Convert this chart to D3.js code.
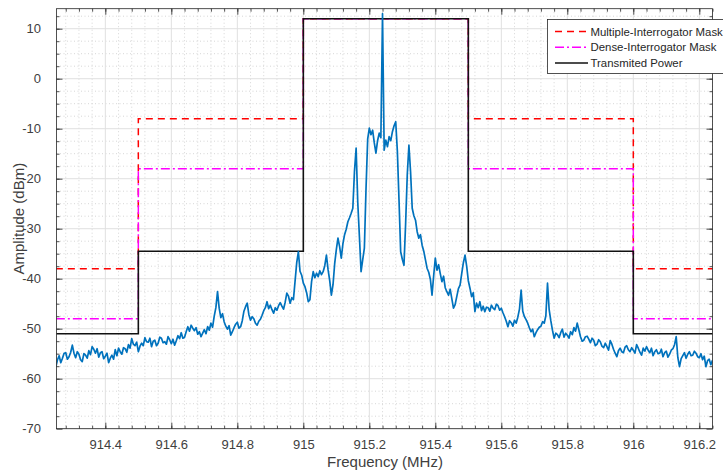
<!DOCTYPE html>
<html>
<head>
<meta charset="utf-8">
<script src="https://cdn.jsdelivr.net/npm/d3@7"></script>
<style>
  html, body { margin: 0; padding: 0; background: #ffffff; }
  svg { display: block; }
  text { font-family: "Liberation Sans", Arial, Helvetica, sans-serif; }
</style>
</head>
<body>
<svg id="chart" width="723" height="472"></svg>
<script>
// ---------------- DATA ----------------
const xTickValues = [914.4, 914.6, 914.8, 915, 915.2, 915.4, 915.6, 915.8, 916, 916.2];
const xTickLabels = ["914.4", "914.6", "914.8", "915", "915.2", "915.4", "915.6", "915.8", "916", "916.2"];
const yTickValues = [-70, -60, -50, -40, -30, -20, -10, 0, 10];
const yTickLabels = ["-70", "-60", "-50", "-40", "-30", "-20", "-10", "0", "10"];

const legendLabels = ["Multiple-Interrogator Mask", "Dense-Interrogator Mask", "Transmited Power"];

// Mask step edges (MHz) and levels (dBm) for each segment
const maskEdgesMHz = [914.25, 914.5, 915, 915.5, 916, 916.25];
const multiMaskDbm = [-38, -8, 12, -8, -38];
const denseMaskDbm = [-48, -18, 12, -18, -48];
const txPowerDbm   = [-51, -34.5, 12, -34.5, -51];

// Measured spectrum trace (frequency in MHz, amplitude in dBm)
const freqMHz = [
914.250,914.255,914.260,914.265,914.270,914.275,914.280,914.285,914.290,914.295,
914.300,914.305,914.310,914.315,914.320,914.325,914.330,914.335,914.340,914.345,
914.350,914.355,914.360,914.365,914.370,914.375,914.380,914.385,914.390,914.395,
914.400,914.405,914.410,914.415,914.420,914.425,914.430,914.435,914.440,914.445,
914.450,914.455,914.460,914.465,914.470,914.475,914.480,914.485,914.490,914.495,
914.500,914.505,914.510,914.515,914.520,914.525,914.530,914.535,914.540,914.545,
914.550,914.555,914.560,914.565,914.570,914.575,914.580,914.585,914.590,914.595,
914.600,914.605,914.610,914.615,914.620,914.625,914.630,914.635,914.640,914.645,
914.650,914.655,914.660,914.665,914.670,914.675,914.680,914.685,914.690,914.695,
914.700,914.705,914.710,914.715,914.720,914.725,914.730,914.735,914.740,914.745,
914.750,914.755,914.760,914.765,914.770,914.775,914.780,914.785,914.790,914.795,
914.800,914.805,914.810,914.815,914.820,914.825,914.830,914.835,914.840,914.845,
914.850,914.855,914.860,914.865,914.870,914.875,914.880,914.885,914.890,914.895,
914.900,914.905,914.910,914.915,914.920,914.925,914.930,914.935,914.940,914.945,
914.950,914.955,914.960,914.965,914.970,914.975,914.980,914.985,914.990,914.995,
915.000,915.005,915.010,915.015,915.020,915.025,915.030,915.035,915.040,915.045,
915.050,915.055,915.060,915.065,915.070,915.075,915.080,915.085,915.090,915.095,
915.100,915.105,915.110,915.115,915.120,915.125,915.130,915.135,915.140,915.145,
915.150,915.155,915.160,915.165,915.170,915.175,915.180,915.185,915.190,915.195,
915.200,915.205,915.210,915.215,915.220,915.225,915.230,915.235,915.240,915.245,
915.250,915.255,915.260,915.265,915.270,915.275,915.280,915.285,915.290,915.295,
915.300,915.305,915.310,915.315,915.320,915.325,915.330,915.335,915.340,915.345,
915.350,915.355,915.360,915.365,915.370,915.375,915.380,915.385,915.390,915.395,
915.400,915.405,915.410,915.415,915.420,915.425,915.430,915.435,915.440,915.445,
915.450,915.455,915.460,915.465,915.470,915.475,915.480,915.485,915.490,915.495,
915.500,915.505,915.510,915.515,915.520,915.525,915.530,915.535,915.540,915.545,
915.550,915.555,915.560,915.565,915.570,915.575,915.580,915.585,915.590,915.595,
915.600,915.605,915.610,915.615,915.620,915.625,915.630,915.635,915.640,915.645,
915.650,915.655,915.660,915.665,915.670,915.675,915.680,915.685,915.690,915.695,
915.700,915.705,915.710,915.715,915.720,915.725,915.730,915.735,915.740,915.745,
915.750,915.755,915.760,915.765,915.770,915.775,915.780,915.785,915.790,915.795,
915.800,915.805,915.810,915.815,915.820,915.825,915.830,915.835,915.840,915.845,
915.850,915.855,915.860,915.865,915.870,915.875,915.880,915.885,915.890,915.895,
915.900,915.905,915.910,915.915,915.920,915.925,915.930,915.935,915.940,915.945,
915.950,915.955,915.960,915.965,915.970,915.975,915.980,915.985,915.990,915.995,
916.000,916.005,916.010,916.015,916.020,916.025,916.030,916.035,916.040,916.045,
916.050,916.055,916.060,916.065,916.070,916.075,916.080,916.085,916.090,916.095,
916.100,916.105,916.110,916.115,916.120,916.125,916.130,916.135,916.140,916.145,
916.150,916.155,916.160,916.165,916.170,916.175,916.180,916.185,916.190,916.195,
916.200,916.205,916.210,916.215,916.220,916.225,916.230,916.235,916.240
];
const amplitudeDbm = [
-57.6,-56.2,-55.4,-56.8,-55.9,-54.9,-54.8,-56.1,-55.6,-54.7,
-53.3,-54.9,-55.8,-54.6,-55.1,-56.2,-56.6,-55.0,-55.3,-55.9,
-54.4,-55.2,-53.6,-54.1,-54.9,-54.0,-55.7,-54.8,-54.6,-56.0,
-55.5,-54.9,-56.8,-55.9,-55.3,-56.1,-54.2,-55.4,-53.9,-54.6,
-55.1,-53.8,-54.0,-54.7,-53.2,-53.9,-52.0,-53.1,-53.4,-52.7,
-54.6,-53.5,-52.9,-53.4,-51.8,-52.6,-52.7,-51.9,-53.6,-52.5,
-52.3,-53.4,-52.9,-51.7,-51.9,-52.8,-52.6,-53.1,-51.6,-52.2,
-53.0,-52.1,-53.3,-52.4,-51.4,-52.0,-50.8,-51.9,-51.7,-50.6,
-49.6,-50.5,-49.3,-49.9,-50.4,-49.8,-51.1,-50.6,-51.6,-50.9,
-50.2,-51.0,-49.6,-50.3,-48.9,-49.7,-47.5,-45.8,-42.6,-45.9,
-47.8,-47.0,-48.6,-49.5,-50.1,-49.4,-51.3,-50.6,-49.8,-49.1,
-48.7,-49.9,-49.6,-48.4,-46.5,-45.6,-44.9,-47.2,-48.3,-47.6,
-48.0,-48.9,-49.3,-48.5,-48.1,-47.3,-46.4,-45.8,-44.6,-46.0,
-45.3,-46.2,-46.9,-45.8,-46.3,-45.4,-44.8,-45.5,-46.1,-44.7,
-42.9,-43.5,-44.9,-43.8,-44.2,-40.5,-36.8,-34.6,-38.5,-39.3,
-40.9,-41.6,-42.8,-44.6,-44.2,-40.6,-38.6,-39.8,-38.9,-39.6,
-38.4,-39.2,-38.6,-37.4,-35.3,-38.2,-40.4,-43.3,-41.2,-37.0,
-34.2,-31.9,-33.6,-35.9,-33.0,-31.2,-30.1,-28.6,-27.8,-26.9,
-25.9,-18.5,-13.9,-24.8,-31.6,-38.6,-36.2,-33.9,-22.0,-12.1,
-9.9,-11.2,-10.3,-12.8,-14.9,-12.4,-10.9,-11.8,13.0,-14.3,
-12.3,-13.6,-11.6,-12.4,-10.6,-9.4,-8.6,-14.5,-24.3,-34.6,
-36.1,-37.3,-29.0,-19.2,-13.3,-18.6,-25.9,-27.4,-28.3,-30.6,
-31.9,-31.2,-33.3,-34.5,-36.2,-37.9,-38.7,-40.1,-43.3,-39.4,
-35.9,-38.3,-37.2,-39.0,-40.6,-39.5,-41.8,-42.6,-43.3,-42.1,
-44.0,-45.9,-45.2,-43.6,-42.0,-41.3,-39.0,-36.8,-35.3,-37.5,
-40.4,-41.9,-43.6,-42.8,-46.6,-44.9,-45.8,-44.6,-46.4,-45.5,
-46.6,-45.7,-45.8,-46.5,-45.3,-45.9,-46.2,-45.1,-45.4,-46.3,
-45.9,-46.8,-47.6,-48.5,-49.6,-48.4,-48.8,-49.5,-48.3,-48.9,
-47.7,-46.1,-42.3,-46.5,-47.6,-48.2,-48.9,-49.8,-50.6,-50.1,
-51.6,-50.8,-50.2,-49.7,-49.5,-48.6,-48.9,-47.4,-40.9,-46.2,
-48.4,-50.3,-51.9,-50.9,-51.2,-51.8,-50.8,-50.1,-51.7,-50.9,
-51.3,-51.9,-50.6,-51.2,-49.8,-50.5,-48.9,-50.2,-51.6,-52.5,
-52.3,-51.6,-51.5,-52.1,-52.8,-51.9,-52.3,-53.4,-53.1,-52.2,
-52.6,-53.5,-53.8,-52.9,-53.6,-54.3,-52.4,-53.1,-54.1,-54.9,
-55.6,-54.4,-53.9,-54.6,-54.8,-53.7,-53.4,-54.2,-54.6,-53.8,
-54.3,-54.9,-53.2,-53.9,-54.7,-55.3,-53.9,-54.5,-53.6,-54.3,
-54.8,-53.9,-55.4,-54.6,-54.2,-55.0,-54.9,-54.1,-55.6,-54.8,
-54.5,-55.7,-55.1,-54.3,-54.0,-53.2,-51.6,-55.8,-57.6,-56.0,
-55.4,-54.8,-55.9,-55.1,-54.6,-55.4,-55.3,-54.5,-54.9,-55.6,
-55.8,-55.0,-56.2,-55.5,-57.6,-56.4,-56.1,-57.2,-56.3
];

// ---------------- LAYOUT ----------------
const svg = d3.select("#chart");
const W = 723, H = 472;
const plot = { left: 56.5, right: 712.5, top: 8.7, bottom: 428.7 };

const x = d3.scaleLinear().domain([914.252, 916.24]).range([plot.left, plot.right]);
const y = d3.scaleLinear().domain([-70, 14]).range([plot.bottom, plot.top]);

svg.append("rect").attr("width", W).attr("height", H).attr("fill", "#ffffff");

svg.append("defs").append("clipPath").attr("id", "clip")
  .append("rect")
  .attr("x", plot.left).attr("y", plot.top)
  .attr("width", plot.right - plot.left).attr("height", plot.bottom - plot.top);

// ---------------- GRID ----------------
const xMinorAll = d3.range(914.28, 916.24, 0.04).map(v => +v.toFixed(2));
const yMinorAll = d3.range(-67.5, 14, 2.5);
const xMinor = xMinorAll.filter(v => !xTickValues.some(t => Math.abs(t - v) < 1e-6));
const yMinor = yMinorAll.filter(v => !yTickValues.some(t => Math.abs(t - v) < 1e-6));

const grid = svg.append("g");
grid.selectAll("line.xmin").data(xMinor).enter().append("line")
  .attr("x1", d => x(d)).attr("x2", d => x(d))
  .attr("y1", plot.top).attr("y2", plot.bottom)
  .attr("stroke", "#cccccc").attr("stroke-width", 0.8).attr("stroke-dasharray", "1,2.5");
grid.selectAll("line.ymin").data(yMinor).enter().append("line")
  .attr("y1", d => y(d)).attr("y2", d => y(d))
  .attr("x1", plot.left).attr("x2", plot.right)
  .attr("stroke", "#cccccc").attr("stroke-width", 0.8).attr("stroke-dasharray", "1,2.5");
grid.selectAll("line.xmaj").data(xTickValues).enter().append("line")
  .attr("x1", d => x(d)).attr("x2", d => x(d))
  .attr("y1", plot.top).attr("y2", plot.bottom)
  .attr("stroke", "#e0e0e0").attr("stroke-width", 1);
grid.selectAll("line.ymaj").data(yTickValues).enter().append("line")
  .attr("y1", d => y(d)).attr("y2", d => y(d))
  .attr("x1", plot.left).attr("x2", plot.right)
  .attr("stroke", "#e0e0e0").attr("stroke-width", 1);

// ---------------- SERIES ----------------
function stepPoints(edges, levels) {
  const pts = [];
  levels.forEach((lv, i) => { pts.push([edges[i], lv]); pts.push([edges[i + 1], lv]); });
  return pts;
}
const line = d3.line().x(d => x(d[0])).y(d => y(d[1]));
const g = svg.append("g").attr("clip-path", "url(#clip)");

g.append("path").datum(stepPoints(maskEdgesMHz, multiMaskDbm))
  .attr("d", line).attr("fill", "none").attr("stroke", "#ff0000")
  .attr("stroke-width", 1.5).attr("stroke-dasharray", "7,5");
g.append("path").datum(stepPoints(maskEdgesMHz, denseMaskDbm))
  .attr("d", line).attr("fill", "none").attr("stroke", "#ff00ff")
  .attr("stroke-width", 1.5).attr("stroke-dasharray", "9,3,2,3");
g.append("path").datum(stepPoints(maskEdgesMHz, txPowerDbm))
  .attr("d", line).attr("fill", "none").attr("stroke", "#111111")
  .attr("stroke-width", 1.6);

const trace = freqMHz.map((f, i) => [f, amplitudeDbm[i]]);
g.append("path").datum(trace)
  .attr("d", line).attr("fill", "none").attr("stroke", "#0072bd")
  .attr("stroke-width", 1.7).attr("stroke-linejoin", "round");

// ---------------- AXES ----------------
const axisColor = "#262626";
function plainTicks(s) {
  s.select(".domain").remove();
  s.selectAll("line").attr("stroke", axisColor).attr("stroke-width", 0.8);
}
function styleAxis(sel) {
  sel.select(".domain").remove();
  sel.selectAll(".tick line").attr("stroke", axisColor).attr("stroke-width", 0.8);
  sel.selectAll(".tick text").attr("fill", "#404040").attr("font-size", "13px");
}

// bottom
const xb = svg.append("g").attr("transform", `translate(0,${plot.bottom})`)
  .call(d3.axisBottom(x).tickValues(xTickValues).tickFormat((d, i) => xTickLabels[i])
    .tickSizeInner(-6).tickSizeOuter(0).tickPadding(11));
styleAxis(xb);
svg.append("g").attr("transform", `translate(0,${plot.bottom})`)
  .call(d3.axisBottom(x).tickValues(xMinorAll).tickFormat("").tickSizeInner(-3).tickSizeOuter(0))
  .call(plainTicks);
// top
svg.append("g").attr("transform", `translate(0,${plot.top})`)
  .call(d3.axisTop(x).tickValues(xTickValues).tickFormat("").tickSizeInner(-6).tickSizeOuter(0))
  .call(plainTicks);
svg.append("g").attr("transform", `translate(0,${plot.top})`)
  .call(d3.axisTop(x).tickValues(xMinorAll).tickFormat("").tickSizeInner(-3).tickSizeOuter(0))
  .call(plainTicks);
// left
const yl = svg.append("g").attr("transform", `translate(${plot.left},0)`)
  .call(d3.axisLeft(y).tickValues(yTickValues).tickFormat((d, i) => yTickLabels[i])
    .tickSizeInner(-6).tickSizeOuter(0).tickPadding(15.5));
styleAxis(yl);
svg.append("g").attr("transform", `translate(${plot.left},0)`)
  .call(d3.axisLeft(y).tickValues(yMinorAll).tickFormat("").tickSizeInner(-3).tickSizeOuter(0))
  .call(plainTicks);
// right
svg.append("g").attr("transform", `translate(${plot.right},0)`)
  .call(d3.axisRight(y).tickValues(yTickValues).tickFormat("").tickSizeInner(-6).tickSizeOuter(0))
  .call(plainTicks);
svg.append("g").attr("transform", `translate(${plot.right},0)`)
  .call(d3.axisRight(y).tickValues(yMinorAll).tickFormat("").tickSizeInner(-3).tickSizeOuter(0))
  .call(plainTicks);

// box
svg.append("rect")
  .attr("x", plot.left).attr("y", plot.top)
  .attr("width", plot.right - plot.left).attr("height", plot.bottom - plot.top)
  .attr("fill", "none").attr("stroke", axisColor).attr("stroke-width", 0.8);

// axis labels
svg.append("text")
  .attr("x", (plot.left + plot.right) / 2 + 0.5).attr("y", 467)
  .attr("text-anchor", "middle").attr("font-size", "15px").attr("fill", "#404040")
  .text("Frequency (MHz)");
svg.append("text")
  .attr("transform", `translate(24,${(plot.top + plot.bottom) / 2}) rotate(-90)`)
  .attr("text-anchor", "middle").attr("font-size", "15px").attr("fill", "#404040")
  .text("Amplitude (dBm)");

// ---------------- LEGEND ----------------
const leg = svg.append("g").attr("transform", "translate(547,19)");
leg.append("rect").attr("x", 0.5).attr("y", 0.5).attr("width", 185).attr("height", 54)
  .attr("fill", "#ffffff").attr("stroke", axisColor).attr("stroke-width", 0.8);
const legStyles = [
  { color: "#ff0000", dash: "7,5" },
  { color: "#ff00ff", dash: "9,3,2,3" },
  { color: "#111111", dash: null }
];
legendLabels.forEach((lab, i) => {
  const yy = 12.5 + i * 15.8;
  const l = leg.append("line").attr("x1", 8).attr("x2", 41).attr("y1", yy).attr("y2", yy)
    .attr("stroke", legStyles[i].color).attr("stroke-width", 1.5);
  if (legStyles[i].dash) l.attr("stroke-dasharray", legStyles[i].dash);
  leg.append("text").attr("x", 43.5).attr("y", yy + 4.1)
    .attr("font-size", "11.4px").attr("fill", "#262626").text(lab);
});
</script>
</body>
</html>
